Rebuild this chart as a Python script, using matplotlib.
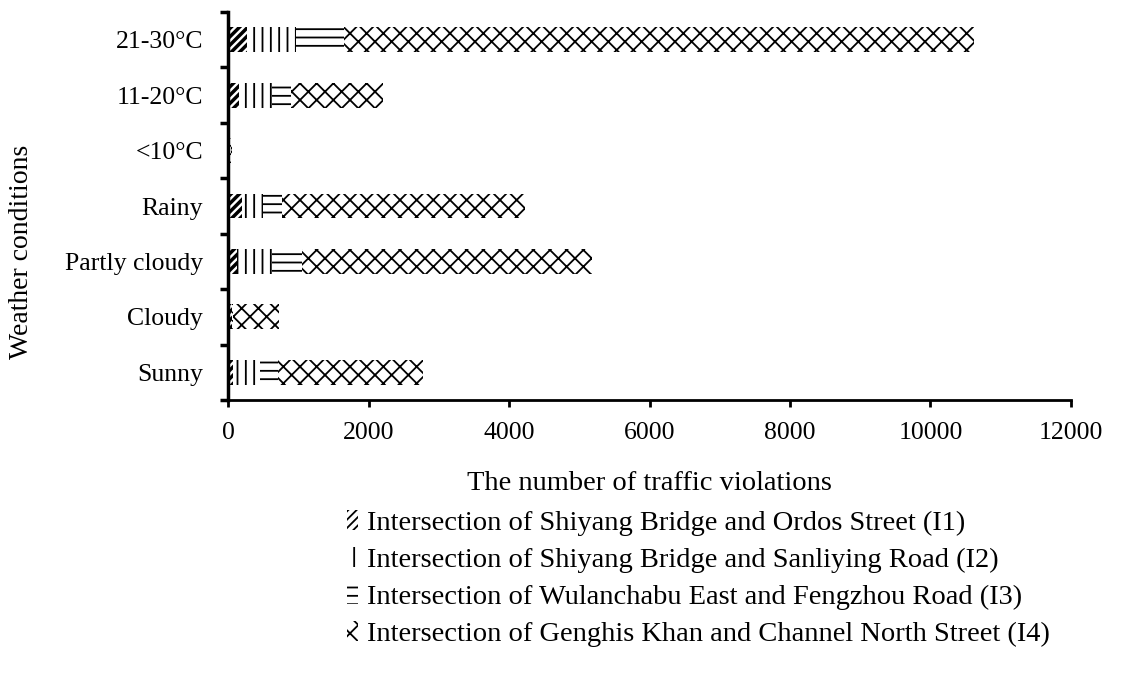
import matplotlib
matplotlib.use('Agg')
from matplotlib import pyplot as plt
import numpy as np

conditions = ['Sunny', 'Cloudy', 'Partly cloudy', 'Rainy', '<10°C', '11-20°C', '21-30°C']
i1 = [70, 50, 130, 200, 20, 150, 270]
i2 = [380, 10, 500, 300, 15, 480, 700]
i3 = [260, 10, 430, 270, 5, 260, 680]
i4 = [2060, 656, 4120, 3460, 20, 1320, 8970]
series_names = [
    'Intersection of Shiyang Bridge and Ordos Street (I1)',
    'Intersection of Shiyang Bridge and Sanliying Road (I2)',
    'Intersection of Wulanchabu East and Fengzhou Road (I3)',
    'Intersection of Genghis Khan and Channel North Street (I4)',
]
hatches = ['////', '||', '--', 'xx']
x_ticks = [0, 2000, 4000, 6000, 8000, 10000, 12000]

plt.rcParams['font.family'] = ['Liberation Serif', 'DejaVu Serif']
plt.rcParams['hatch.linewidth'] = 1.3

fig = plt.figure(figsize=(11.22, 6.74), dpi=100)
ax = fig.add_axes([228 / 1122, 1 - 400 / 674, (1071 - 228) / 1122, (400 - 12) / 674])

y = np.arange(len(conditions))
left = np.zeros(len(conditions))
handles = []
for vals, name, h in zip([i1, i2, i3, i4], series_names, hatches):
    bars = ax.barh(y, vals, left=left, height=0.45, color='white',
                   edgecolor='black', linewidth=0, hatch=h, label=name)
    if h == '////':
        for b in bars:
            if hasattr(b, 'set_hatch_linewidth'):
                b.set_hatch_linewidth(2.5)
    handles.append(bars)
    left += np.array(vals)

ax.set_xlim(0, 12000)
ax.set_ylim(-0.5, len(conditions) - 0.5)
ax.set_xticks(x_ticks)
ax.set_xticklabels([str(t) for t in x_ticks])
ax.set_yticks(y)
ax.set_yticklabels(conditions)
ax.set_yticks(np.arange(-0.5, len(conditions), 1), minor=True)
ax.tick_params(axis='y', which='major', length=0, pad=18, labelsize=18.5)
ax.tick_params(axis='y', which='minor', length=6, width=2.5, direction='out')
ax.tick_params(axis='x', length=5, width=2, pad=11, labelsize=18.5)

for side in ['top', 'right']:
    ax.spines[side].set_visible(False)
ax.spines['left'].set_linewidth(2.5)
ax.spines['bottom'].set_linewidth(2)

ax.set_xlabel('The number of traffic violations', fontsize=20.5, labelpad=19)
fig.text(22 / 1122, 1 - 252 / 674, 'Weather conditions', rotation=90,
         fontsize=20, ha='center', va='center')

fig.legend(handles=handles, labels=series_names, loc='upper left',
           bbox_to_anchor=(347 / 1122, 1 - 510 / 674), frameon=False,
           fontsize=20.5, handlelength=0.4, handleheight=0.7,
           handletextpad=0.3, labelspacing=0.39, borderpad=0, borderaxespad=0)

fig.savefig('out.png', dpi=100)
